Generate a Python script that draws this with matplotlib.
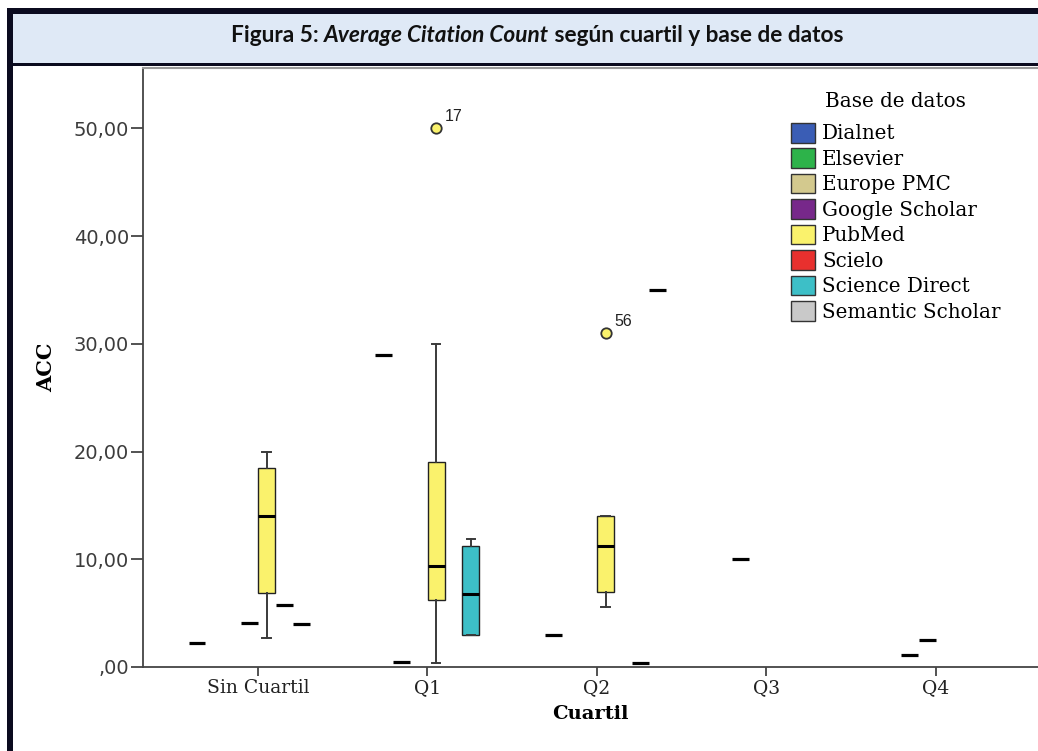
import numpy as np
import matplotlib
matplotlib.use('Agg')
import matplotlib.pyplot as plt
from matplotlib.patches import Rectangle, Patch
from matplotlib.ticker import FuncFormatter

W, H = 1038, 751

cuartiles = ['Sin Cuartil', 'Q1', 'Q2', 'Q3', 'Q4']
bases = ['Dialnet', 'Elsevier', 'Europe PMC', 'Google Scholar', 'PubMed',
         'Scielo', 'Science Direct', 'Semantic Scholar']
colores = ['#3a5db5', '#2db34a', '#d3c98e', '#77288a', '#faf26c',
           '#e8302e', '#3dbfc7', '#c9c9c9']

# grupos con caja (cuartil, base) y sus estadisticos
box_cuartil = [0, 1, 1, 2]
box_base = [4, 4, 6, 4]
box_whislo = [2.7, 0.4, 3.0, 5.6]
box_q1 = [6.85, 6.2, 3.0, 7.0]
box_med = [14.0, 9.4, 6.8, 11.2]
box_q3 = [18.5, 19.0, 11.2, 14.0]
box_whishi = [20.0, 30.0, 11.9, 14.0]

# grupos con un solo valor
unico_cuartil = [0, 0, 0, 0, 1, 1, 2, 2, 2, 3, 4, 4]
unico_base = [0, 3, 5, 6, 1, 2, 1, 6, 7, 2, 2, 3]
unico_valor = [2.2, 4.1, 5.8, 4.0, 29.0, 0.5, 3.0, 0.4, 35.0, 10.0, 1.15, 2.5]

# valores atipicos
atipico_cuartil = [1, 2]
atipico_base = [4, 4]
atipico_valor = [50.0, 31.0]
atipico_caso = ['17', '56']

paso = 0.1027
ancho = 0.1


def posicion(c, b):
    return c + (b - 3.5) * paso


def fx(px):
    return px / W


def fy(py):
    return 1 - py / H


fig = plt.figure(figsize=(W / 100, H / 100), dpi=100)
fig.patch.set_facecolor('white')

# marco del titulo
borde = '#0b0b1f'
fig.add_artist(Rectangle((fx(13), fy(63)), fx(W) - fx(13), fy(14) - fy(63),
                         transform=fig.transFigure, facecolor='#dfe9f6', edgecolor='none'))
fig.add_artist(Rectangle((fx(7), fy(14)), 1 - fx(7), fy(8) - fy(14),
                         transform=fig.transFigure, facecolor=borde, edgecolor='none'))
fig.add_artist(Rectangle((fx(7), fy(66)), 1 - fx(7), fy(63) - fy(66),
                         transform=fig.transFigure, facecolor=borde, edgecolor='none'))
fig.add_artist(Rectangle((fx(7), 0), fx(13) - fx(7), fy(8),
                         transform=fig.transFigure, facecolor=borde, edgecolor='none'))

# titulo con parte en cursiva
partes = ['Figura 5: ', 'Average Citation Count', ' según cuartil y base de datos']
estilos = ['normal', 'italic', 'normal']
renderer = fig.canvas.get_renderer()
textos = []
for p, st in zip(partes, estilos):
    t = fig.text(0, fy(36), p, fontsize=16.3, fontweight='bold', style=st,
                 family=['Lato', 'DejaVu Sans'], va='center', ha='left', color='#111111')
    textos.append(t)
anchos = [t.get_window_extent(renderer).width for t in textos]
x0 = 537 - sum(anchos) / 2
for t, a in zip(textos, anchos):
    t.set_x(fx(x0))
    x0 += a

ax = fig.add_axes([fx(143), fy(667), fx(W) - fx(143), fy(68) - fy(667)])

stats = []
pos = []
for i in range(len(box_cuartil)):
    stats.append(dict(med=box_med[i], q1=box_q1[i], q3=box_q3[i],
                      whislo=box_whislo[i], whishi=box_whishi[i], fliers=[]))
    pos.append(posicion(box_cuartil[i], box_base[i]))
res = ax.bxp(stats, positions=pos, widths=ancho, patch_artist=True, showfliers=False,
             manage_ticks=False,
             boxprops=dict(edgecolor='#222222', linewidth=1.0),
             medianprops=dict(color='black', linewidth=2.2),
             whiskerprops=dict(color='#3a3a3a', linewidth=1.4),
             capprops=dict(color='#3a3a3a', linewidth=1.4))
for patch, b in zip(res['boxes'], box_base):
    patch.set_facecolor(colores[b])

xs = np.array([posicion(c, b) for c, b in zip(unico_cuartil, unico_base)])
ax.hlines(unico_valor, xs - ancho / 2, xs + ancho / 2, color='black', linewidth=2.3)

for c, b, v, caso in zip(atipico_cuartil, atipico_base, atipico_valor, atipico_caso):
    x = posicion(c, b)
    ax.plot([x], [v], 'o', ms=7.5, mfc=colores[b], mec='#333333', mew=1.3)
    ax.annotate(caso, (x, v), xytext=(6, 5), textcoords='offset points',
                fontsize=11.5, family='Liberation Sans', color='#222222')

ax.set_xlim(-0.678, 4.602)
ax.set_ylim(0, 55.6)
ax.set_xticks(range(len(cuartiles)))
ax.set_xticklabels(cuartiles, family='DejaVu Serif', fontsize=13.5, color='#222222')
ax.set_yticks([0, 10, 20, 30, 40, 50])


def fmt(v, p):
    s = f'{v:.2f}'.replace('.', ',')
    return s[1:] if s.startswith('0') else s


ax.yaxis.set_major_formatter(FuncFormatter(fmt))
for lab in ax.get_yticklabels():
    lab.set_family('DejaVu Sans')
ax.tick_params(axis='x', length=6.5, width=1.3, color='#444444', pad=2)
ax.tick_params(axis='y', length=9, width=1.3, color='#444444', pad=1,
               labelsize=14, labelcolor='#3c3c3c')

ax.spines['right'].set_visible(False)
ax.spines['top'].set_color('#9a9a9a')
ax.spines['top'].set_linewidth(1.5)
for s in ['left', 'bottom']:
    ax.spines[s].set_color('#444444')
    ax.spines[s].set_linewidth(1.3)

ax.set_xlabel('Cuartil', family='DejaVu Serif', fontweight='bold', fontsize=14)
ax.xaxis.set_label_coords(0.5, -(714 - 667) / 599)
ax.xaxis.label.set_va('center')
ax.set_ylabel('ACC', family='DejaVu Serif', fontweight='bold', fontsize=15)
ax.yaxis.set_label_coords((46 - 143) / 895, 0.5)
ax.yaxis.label.set_rotation_mode('default')
ax.yaxis.label.set_va('center')
ax.yaxis.label.set_ha('center')

handles = [Patch(facecolor=c, edgecolor='#333333', linewidth=1) for c in colores]
leg = ax.legend(handles, bases, title='Base de datos', loc='upper left',
                bbox_to_anchor=(fx(791), fy(92)), bbox_transform=fig.transFigure,
                frameon=False, borderpad=0, borderaxespad=0,
                prop=dict(family='DejaVu Serif', size=14.3),
                handlelength=1.22, handleheight=1.15, handletextpad=0.35,
                labelspacing=0.245)
leg.get_title().set_family('DejaVu Serif')
leg.get_title().set_fontsize(14.3)
leg._legend_box.sep = 8.5

fig.savefig('out.png', dpi=100)
